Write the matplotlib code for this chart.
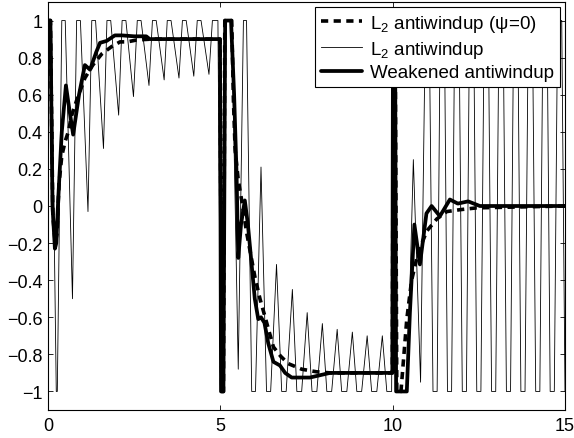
import matplotlib
matplotlib.use("Agg")
import matplotlib.pyplot as plt

plt.rcParams['font.family'] = ['Liberation Sans', 'DejaVu Sans']
plt.rcParams['mathtext.fontset'] = 'custom'
plt.rcParams['mathtext.rm'] = 'Liberation Sans'
plt.rcParams['mathtext.it'] = 'Liberation Sans:italic'

# ---- data ----
labels = ['L$_2$ antiwindup (ψ=0)', 'L$_2$ antiwindup', 'Weakened antiwindup']

dash_t = [0, 0.07, 0.14, 0.21, 0.26, 0.32, 0.40, 0.50, 0.59, 0.69, 0.85, 1.07, 1.30,
          1.56, 1.85, 2.09, 2.30, 2.57, 3.00, 4.99, 5.04, 5.09, 5.13, 5.33, 5.38, 5.43,
          5.52, 5.62, 5.76, 6.00, 6.15, 6.30, 6.54, 6.75, 6.97, 7.36, 7.79, 8.20, 9.99,
          10.02, 10.07, 10.12, 10.24, 10.31, 10.41, 10.55, 10.74, 10.99, 11.28, 11.57,
          11.95, 12.44, 15.0]
dash_y = [1, 1, -0.05, -0.20, -0.15, 0.12, 0.27, 0.35, 0.40, 0.49, 0.58, 0.69, 0.76,
          0.82, 0.86, 0.885, 0.885, 0.895, 0.90, 0.90, -1, -1, 1, 1, 0.57, 0.30,
          0.14, 0.03, -0.14, -0.38, -0.50, -0.60, -0.76, -0.81, -0.85, -0.88, -0.894, -0.90, -0.90,
          1, 1, -1, -1, -0.84, -0.61, -0.40, -0.25, -0.135, -0.07, -0.03,
          -0.02, -0.01, 0.0]

thin_t = [0.00, 0.10, 0.24, 0.27, 0.40, 0.50, 0.71, 0.83, 0.94, 1.16, 1.27, 1.38,
          1.61, 1.71, 1.82, 2.05, 2.15, 2.26, 2.48, 2.59, 2.70, 2.93, 3.03, 3.14,
          3.37, 3.46, 3.57, 3.80, 3.90, 4.01, 4.23, 4.33, 4.44, 4.67, 4.77, 4.93,
          5.01, 5.11, 5.16, 5.33, 5.52, 5.67, 5.76, 5.91, 6.02, 6.18, 6.34, 6.46,
          6.63, 6.78, 6.91, 7.09, 7.22, 7.36, 7.52, 7.66, 7.80, 7.96, 8.09, 8.23,
          8.39, 8.52, 8.67, 8.83, 8.96, 9.10, 9.26, 9.39, 9.54, 9.70, 9.83, 9.97,
          10.02, 10.06, 10.10, 10.42, 10.60, 10.81, 10.95, 11.06,
          11.17, 11.29, 11.38, 11.50, 11.59, 11.71, 11.80, 11.925, 12.02, 12.14,
          12.23, 12.35, 12.44, 12.56, 12.655, 12.775, 12.87, 12.99, 13.085, 13.205,
          13.30, 13.42, 13.51, 13.63, 13.72, 13.84, 13.935, 14.055, 14.15, 14.27,
          14.36, 14.48, 14.57, 14.69, 14.785, 14.905, 15.0]
thin_y = [1, 1, -1, -1, 1, 1, -0.50, 1, 1, -0.03, 1, 1,
          0.31, 1, 1, 0.49, 1, 1, 0.59, 1, 1, 0.65, 1, 1,
          0.68, 1, 1, 0.69, 1, 1, 0.70, 1, 1, 0.71, 1, 1,
          -1, -1, 1, 1, -0.88, 1, 1, -1, -1, 0.21, -1, -1,
          -0.315, -1, -1, -0.45, -1, -1, -0.575, -1, -1, -0.634, -1, -1,
          -0.665, -1, -1, -0.68, -1, -1, -0.70, -1, -1, -0.70, -1, -1,
          1, 1, -1, -1, 0.25, -0.95, 1, 1,
          -1, -1, 1, 1, -1, -1, 1, 1, -1, -1,
          1, 1, -1, -1, 1, 1, -1, -1, 1, 1,
          -1, -1, 1, 1, -1, -1, 1, 1, -1, -1,
          1, 1, -1, -1, 1, 1, -1]

solid_t = [0, 0.07, 0.13, 0.20, 0.24, 0.30, 0.40, 0.52, 0.62, 0.73, 0.90, 1.07, 1.22,
           1.40, 1.51, 1.70, 1.94, 2.14, 2.50, 2.85, 2.95, 4.99, 5.02, 5.09, 5.14, 5.31,
           5.40, 5.47, 5.52, 5.60, 5.71, 5.80, 5.91, 6.00, 6.10, 6.18, 6.28, 6.39, 6.54,
           6.73, 6.88, 7.07, 7.60, 8.18, 9.99, 10.01, 10.07, 10.10, 10.41, 10.50, 10.63,
           10.79, 10.98, 11.13, 11.37, 11.66, 11.89, 12.19, 12.53, 15.0]
solid_y = [1, 1, 0.0, -0.23, -0.20, 0.05, 0.40, 0.65, 0.52, 0.385, 0.60, 0.76, 0.735,
           0.83, 0.88, 0.89, 0.92, 0.92, 0.915, 0.915, 0.90, 0.90, -1, -1, 1, 1,
           0.6, 0.18, -0.28, -0.10, 0.03, -0.10, -0.32, -0.50, -0.61, -0.60, -0.63, -0.74, -0.84,
           -0.86, -0.90, -0.925, -0.925, -0.90, -0.90, 1, 1, -1, -1, -0.575, -0.10,
           -0.315, -0.04, 0.0, -0.055, 0.035, 0.013, 0.025, 0.0, 0.0]

xticks = [0, 5, 10, 15]
xticklabels = ['0', '5', '10', '15']
yticks = [-1, -0.8, -0.6, -0.4, -0.2, 0, 0.2, 0.4, 0.6, 0.8, 1]
yticklabels = ['\u22121', '\u22120.8', '\u22120.6', '\u22120.4', '\u22120.2', '0',
               '0.2', '0.4', '0.6', '0.8', '1']

# ---- figure ----
W, H = 574, 439
fig = plt.figure(figsize=(W / 100, H / 100), dpi=100)
ax = fig.add_axes([48 / W, (H - 411) / H, 517 / W, 408 / H])

ax.plot(dash_t, dash_y, color='black', lw=2.6, dashes=(2.0, 1.5),
        solid_joinstyle='round', label=labels[0])
ax.plot(thin_t, thin_y, color='black', lw=0.6, label=labels[1])
ax.plot(solid_t, solid_y, color='black', lw=2.7, solid_joinstyle='round',
        solid_capstyle='round', label=labels[2])

ax.set_xlim(0, 15)
ax.set_ylim(-1.1, 1.1)
ax.set_xticks(xticks)
ax.set_xticklabels(xticklabels)
ax.set_yticks(yticks)
ax.set_yticklabels(yticklabels)
ax.tick_params(direction='in', length=3.5, width=0.6, top=True, right=True,
               labelsize=13, colors='black')
ax.tick_params(axis='y', pad=4)
ax.tick_params(axis='x', pad=5)
for s in ax.spines.values():
    s.set_linewidth(0.8)
    s.set_color('black')

leg = ax.legend(loc='upper right', bbox_to_anchor=(0.990, 0.987), borderaxespad=0,
                fontsize=13.5, frameon=True, fancybox=False, framealpha=1,
                edgecolor='black', handlelength=2.2, handletextpad=0.45,
                borderpad=0.3, labelspacing=0.25)
leg.get_frame().set_linewidth(0.8)

fig.savefig('out.png', dpi=100)
